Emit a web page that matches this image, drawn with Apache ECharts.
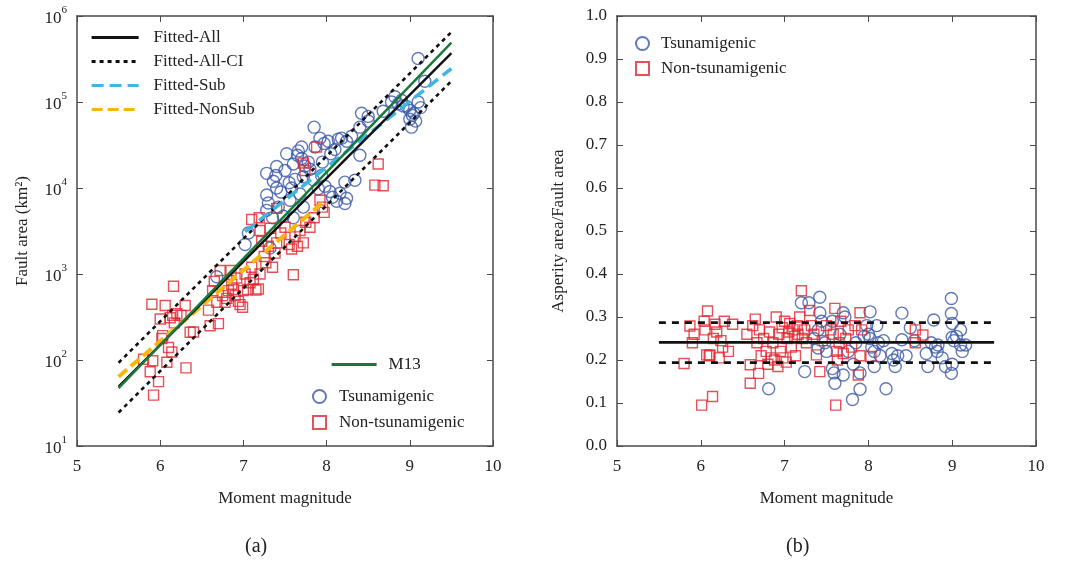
<!DOCTYPE html>
<html><head><meta charset="utf-8">
<script src="https://cdn.jsdelivr.net/npm/echarts@6/dist/echarts.min.js"></script>
<style>html,body{margin:0;padding:0;background:#fff}#c{width:1068px;height:561px}</style>
</head><body><div id="c"></div><script>
// ---- axis ranges / ticks ----
const magRange = [5, 10];
const areaRange = [10, 1e6];
const ratioRange = [0, 1];

// ---- (a) Fault area vs magnitude ----
const tsunamiArea = [
  [6.68,930],[7.02,2200],[7.06,3000],[7.28,14800],[7.40,17800],[7.39,14000],[7.28,8300],[7.30,6700],
  [7.28,5500],[7.32,2000],[7.35,4500],[7.48,4700],[7.40,10000],[7.56,7200],[7.58,10000],[7.62,12600],
  [7.55,11500],[7.60,19000],[7.65,24000],[7.66,27000],[7.70,22000],[7.72,6000],[7.72,13500],[7.74,18000],
  [7.78,20000],[7.80,16500],[7.85,51000],[7.86,30000],[7.92,38000],[7.94,14000],[7.97,33000],[7.98,10500],
  [8.02,35000],[8.04,9100],[8.07,7800],[8.10,28000],[8.12,7000],[8.14,37000],[8.18,38000],[8.22,11700],
  [8.24,35000],[8.30,40000],[8.42,74000],[8.40,51000],[8.40,24000],[8.50,68000],[8.50,60000],[8.68,78000],
  [8.82,115000],[8.78,100000],[8.86,95000],[8.90,105000],[8.96,89000],[9.00,80000],[9.03,70000],[9.00,63000],
  [9.07,60000],[9.02,51000],[9.05,74000],[9.10,100000],[9.10,320000],[9.18,174000],[9.13,86000],[8.92,90000],
  [7.45,9000],[7.50,16000],[7.36,12000],[7.68,8500],[7.90,9800],[7.84,12500],[7.60,4500],[7.52,25000],
  [8.16,8700],[8.22,6600],[8.24,7600],[8.34,12300],[7.95,20000],[8.05,25000],[7.42,6000],[7.70,30000]
];
const nonTsunamiArea = [
  [5.80,102],[5.88,73],[5.90,445],[5.91,98],[5.92,39],[5.98,56],[6.00,300],[6.02,178],[6.03,192],
  [6.06,430],[6.08,94],[6.10,140],[6.12,310],[6.14,124],[6.15,330],[6.16,720],[6.17,270],[6.20,345],
  [6.25,330],[6.30,430],[6.31,81],[6.36,210],[6.40,212],
  [6.58,380],[6.60,250],[6.63,640],[6.65,820],[6.68,470],[6.70,265],[6.72,1100],[6.75,560],[6.78,470],
  [6.80,520],[6.82,640],[6.85,1100],[6.86,760],[6.88,660],[6.90,560],[6.92,900],[6.94,480],[6.96,440],
  [6.99,410],[7.00,640],[7.02,1000],[7.05,660],[7.08,790],[7.10,1200],[7.12,870],[7.15,650],[7.18,670],
  [7.20,1000],[7.22,2400],[7.25,1600],[7.27,1350],[7.30,2100],[7.32,3400],[7.35,1200],[7.38,1750],
  [7.40,2300],[7.10,4300],[7.19,4500],[7.20,3200],[7.40,5800],[7.45,3000],[7.50,3500],[7.55,2200],
  [7.58,1950],[7.60,980],[7.62,2700],[7.65,2100],[7.68,3200],[7.72,2300],[7.75,4000],[7.80,3500],
  [7.85,4500],[7.92,7200],[7.95,6000],[7.97,5200],[7.72,19500],[7.74,16000],[7.88,30000],
  [8.62,19000],[8.58,10800],[8.68,10600]
];
const fittedAll   = [[5.5,49],[9.5,370000]];
const fittedAllCIUpper = [[5.5,93],[9.5,650000]];
const fittedAllCILower = [[5.5,24.5],[9.5,175000]];
const fittedSub   = [[7.02,3100],[9.5,245000]];
const fittedNonSub= [[5.5,64],[7.94,6600]];
const m13         = [[5.5,47],[9.5,490000]];

// ---- (b) Asperity ratio vs magnitude ----
const tsunamiRatio = [
  [6.81,0.133],[7.20,0.333],[7.29,0.333],[7.42,0.346],[7.24,0.173],[7.40,0.27],[7.40,0.228],[7.50,0.22],
  [7.42,0.31],[7.44,0.29],[7.57,0.18],[7.59,0.17],[7.60,0.146],[7.70,0.165],[7.57,0.29],[7.70,0.31],
  [7.72,0.30],[7.76,0.22],[7.82,0.19],[7.81,0.108],[7.90,0.132],[7.90,0.17],[8.02,0.312],[7.98,0.28],
  [8.02,0.25],[8.04,0.23],[8.07,0.22],[8.07,0.185],[8.10,0.28],[8.12,0.24],[8.14,0.21],[8.21,0.133],
  [8.28,0.215],[8.32,0.185],[8.30,0.20],[8.40,0.309],[8.40,0.247],[8.50,0.275],[8.45,0.21],[8.69,0.215],
  [8.71,0.185],[8.78,0.293],[8.80,0.23],[8.82,0.22],[8.83,0.235],[8.92,0.185],[8.99,0.343],[8.99,0.308],
  [9.00,0.285],[9.00,0.253],[9.02,0.245],[9.00,0.19],[8.99,0.169],[9.10,0.27],[9.12,0.22],[9.10,0.235],
  [9.16,0.235],[7.35,0.25],[7.48,0.24],[7.66,0.26],[7.85,0.24],[7.95,0.255],[8.00,0.26],[8.18,0.245],
  [8.35,0.21],[8.55,0.245],[8.75,0.24],[8.88,0.205],[9.05,0.255]
];
const nonTsunamiRatio = [
  [5.80,0.192],[5.87,0.279],[5.90,0.24],[5.92,0.26],[6.01,0.095],[6.14,0.115],[6.04,0.29],[6.05,0.27],
  [6.08,0.314],[6.07,0.212],[6.11,0.212],[6.10,0.21],[6.15,0.25],[6.17,0.283],[6.19,0.265],[6.22,0.205],
  [6.24,0.245],[6.26,0.23],[6.28,0.29],[6.33,0.22],[6.38,0.283],
  [6.55,0.26],[6.59,0.146],[6.59,0.189],[6.62,0.28],[6.65,0.295],[6.67,0.24],[6.69,0.169],[6.70,0.27],
  [6.72,0.21],[6.75,0.25],[6.78,0.22],[6.80,0.19],[6.82,0.265],[6.84,0.205],[6.86,0.24],[6.88,0.20],
  [6.90,0.30],[6.92,0.185],[6.93,0.26],[6.95,0.22],[6.97,0.275],[6.98,0.205],[7.00,0.29],[7.02,0.195],
  [7.03,0.25],[7.05,0.265],[7.06,0.285],[7.08,0.23],[7.10,0.27],[7.12,0.255],[7.13,0.21],[7.15,0.28],
  [7.16,0.26],[7.18,0.30],[7.20,0.361],[7.21,0.25],[7.24,0.27],[7.26,0.24],[7.30,0.315],[7.32,0.28],
  [7.35,0.26],[7.38,0.212],[7.42,0.173],[7.45,0.245],[7.50,0.28],[7.55,0.27],[7.58,0.26],[7.60,0.32],
  [7.61,0.095],[7.62,0.22],[7.63,0.20],[7.65,0.24],[7.67,0.29],[7.70,0.215],[7.73,0.25],[7.76,0.27],
  [7.80,0.23],[7.84,0.28],[7.88,0.165],[7.90,0.31],[7.90,0.21],[7.92,0.27],[8.03,0.208],[8.56,0.27],
  [8.56,0.24],[8.65,0.258]
];
const ratioMean  = [[5.5,0.241],[9.5,0.241]];
const ratioUpper = [[5.5,0.287],[9.5,0.287]];
const ratioLower = [[5.5,0.194],[9.5,0.194]];

// ---- styling ----
const FONT = 'Liberation Serif';
const TXT = '#222';
const FRAME = '#4a4a4a';
const BLUE = '#3a57a8';
const RED = '#e0262e';
const labelStyle = {fontSize:17, fontFamily:FONT, color:TXT};

function frameAxis(extra){
  return Object.assign({
    axisLine:{show:true, onZero:false, lineStyle:{color:FRAME, width:1.5}},
    axisTick:{show:true, inside:true, length:6, lineStyle:{color:FRAME, width:1}},
    splitLine:{show:false}
  }, extra);
}
const noSymbol = {color:'rgba(0,0,0,0)', borderWidth:0, opacity:0};

const chart = echarts.init(document.getElementById('c'));
const option = {
  backgroundColor:'#fff',
  animation:false,
  grid:[
    {left:77, top:16, width:416, height:430},
    {left:617, top:16, width:419, height:430}
  ],
  xAxis:[
    frameAxis({gridIndex:0, type:'value', min:magRange[0], max:magRange[1], interval:1,
      axisLabel:Object.assign({margin:12}, labelStyle),
      name:'Moment magnitude', nameLocation:'middle', nameGap:44, nameTextStyle:labelStyle}),
    frameAxis({gridIndex:0, type:'value', position:'top', min:magRange[0], max:magRange[1], interval:1, axisLabel:{show:false}}),
    frameAxis({gridIndex:1, type:'value', min:magRange[0], max:magRange[1], interval:1,
      axisLabel:Object.assign({margin:12}, labelStyle),
      name:'Moment magnitude', nameLocation:'middle', nameGap:44, nameTextStyle:labelStyle}),
    frameAxis({gridIndex:1, type:'value', position:'top', min:magRange[0], max:magRange[1], interval:1, axisLabel:{show:false}})
  ],
  yAxis:[
    frameAxis({gridIndex:0, type:'log', logBase:10, min:areaRange[0], max:areaRange[1],
      axisLabel:{margin:10, formatter:v=>'{b|10}{s|'+Math.round(Math.log10(v))+'}',
        rich:{b:{fontSize:17, fontFamily:FONT, color:TXT, lineHeight:22, verticalAlign:'bottom'},
              s:{fontSize:11, fontFamily:FONT, color:TXT, lineHeight:12, verticalAlign:'top'}}},
      name:'Fault area (km²)', nameLocation:'middle', nameGap:46, nameRotate:90, nameTextStyle:labelStyle}),
    frameAxis({gridIndex:0, type:'log', logBase:10, position:'right', min:areaRange[0], max:areaRange[1], axisLabel:{show:false}}),
    frameAxis({gridIndex:1, type:'value', min:ratioRange[0], max:ratioRange[1], interval:0.1,
      axisLabel:Object.assign({margin:10, formatter:v=>v.toFixed(1)}, labelStyle),
      name:'Asperity area/Fault area', nameLocation:'middle', nameGap:50, nameRotate:90, nameTextStyle:labelStyle}),
    frameAxis({gridIndex:1, type:'value', position:'right', min:ratioRange[0], max:ratioRange[1], interval:0.1, axisLabel:{show:false}})
  ],
  legend:[
    {left:90, top:29, padding:0, orient:'vertical', itemWidth:47, itemHeight:14, itemGap:7,
     itemStyle:noSymbol, lineStyle:{width:3.2}, textStyle:Object.assign({padding:[0,0,0,10]}, labelStyle),
     data:['Fitted-All','Fitted-All-CI','Fitted-Sub','Fitted-NonSub']},
    {left:330, top:356, padding:0, orient:'vertical', itemWidth:45, itemHeight:14, itemGap:7,
     itemStyle:noSymbol, lineStyle:{width:3.2}, textStyle:Object.assign({padding:[0,0,0,7]}, labelStyle),
     data:['M13']},
    {left:312, top:388, padding:0, orient:'vertical', itemWidth:13, itemHeight:13, itemGap:9,
     textStyle:Object.assign({padding:[0,0,0,8]}, labelStyle),
     data:['Tsunamigenic','Non-tsunamigenic']},
    {left:635, top:35, padding:0, orient:'vertical', itemWidth:13, itemHeight:13, itemGap:8,
     textStyle:Object.assign({padding:[0,0,0,7]}, labelStyle),
     data:['Tsunamigenic','Non-tsunamigenic']}
  ],
  graphic:[
    {type:'text', left:245, top:537, style:{text:'(a)', font:'20px "Liberation Serif"', fill:TXT}},
    {type:'text', left:786, top:537, style:{text:'(b)', font:'20px "Liberation Serif"', fill:TXT}}
  ],
  series:[
    {name:'Tsunamigenic', type:'scatter', xAxisIndex:0, yAxisIndex:0, data:tsunamiArea, symbol:'circle', symbolSize:12,
     itemStyle:{color:'rgba(255,255,255,0)', borderColor:BLUE, borderWidth:1.4}, z:2},
    {name:'Non-tsunamigenic', type:'scatter', xAxisIndex:0, yAxisIndex:0, data:nonTsunamiArea, symbol:'rect', symbolSize:10,
     itemStyle:{color:'rgba(255,255,255,0)', borderColor:RED, borderWidth:1.4}, z:2},
    {name:'Fitted-All-CI', type:'line', xAxisIndex:0, yAxisIndex:0, data:fittedAllCIUpper, symbol:'none',
     itemStyle:{color:'#111'}, lineStyle:{color:'#111', width:2.6, type:[4,4]}, z:4},
    {name:'Fitted-All-CI', type:'line', xAxisIndex:0, yAxisIndex:0, data:fittedAllCILower, symbol:'none',
     itemStyle:{color:'#111'}, lineStyle:{color:'#111', width:2.6, type:[4,4]}, z:4},
    {name:'Fitted-Sub', type:'line', xAxisIndex:0, yAxisIndex:0, data:fittedSub, symbol:'none',
     itemStyle:{color:'#3cb6e3'}, lineStyle:{color:'#3cb6e3', width:3.5, type:[12,6]}, z:4},
    {name:'Fitted-NonSub', type:'line', xAxisIndex:0, yAxisIndex:0, data:fittedNonSub, symbol:'none',
     itemStyle:{color:'#f6b90a'}, lineStyle:{color:'#f6b90a', width:4, type:[11,5]}, z:4},
    {name:'Fitted-All', type:'line', xAxisIndex:0, yAxisIndex:0, data:fittedAll, symbol:'none',
     itemStyle:{color:'#111'}, lineStyle:{color:'#111', width:2.4}, z:5},
    {name:'M13', type:'line', xAxisIndex:0, yAxisIndex:0, data:m13, symbol:'none',
     itemStyle:{color:'#18793a'}, lineStyle:{color:'#18793a', width:2.4}, z:5},
    {name:'Tsunamigenic', type:'scatter', xAxisIndex:2, yAxisIndex:2, data:tsunamiRatio, symbol:'circle', symbolSize:12,
     itemStyle:{color:'rgba(255,255,255,0)', borderColor:BLUE, borderWidth:1.4}, z:2},
    {name:'Non-tsunamigenic', type:'scatter', xAxisIndex:2, yAxisIndex:2, data:nonTsunamiRatio, symbol:'rect', symbolSize:10,
     itemStyle:{color:'rgba(255,255,255,0)', borderColor:RED, borderWidth:1.4}, z:2},
    {name:'ratio-mean', type:'line', xAxisIndex:2, yAxisIndex:2, data:ratioMean, symbol:'none',
     lineStyle:{color:'#111', width:2.6}, z:5},
    {name:'ratio-ci', type:'line', xAxisIndex:2, yAxisIndex:2, data:ratioUpper, symbol:'none',
     lineStyle:{color:'#111', width:2.6, type:[7,6]}, z:5},
    {name:'ratio-ci', type:'line', xAxisIndex:2, yAxisIndex:2, data:ratioLower, symbol:'none',
     lineStyle:{color:'#111', width:2.6, type:[7,6]}, z:5}
  ]
};
chart.setOption(option);
</script></body></html>
